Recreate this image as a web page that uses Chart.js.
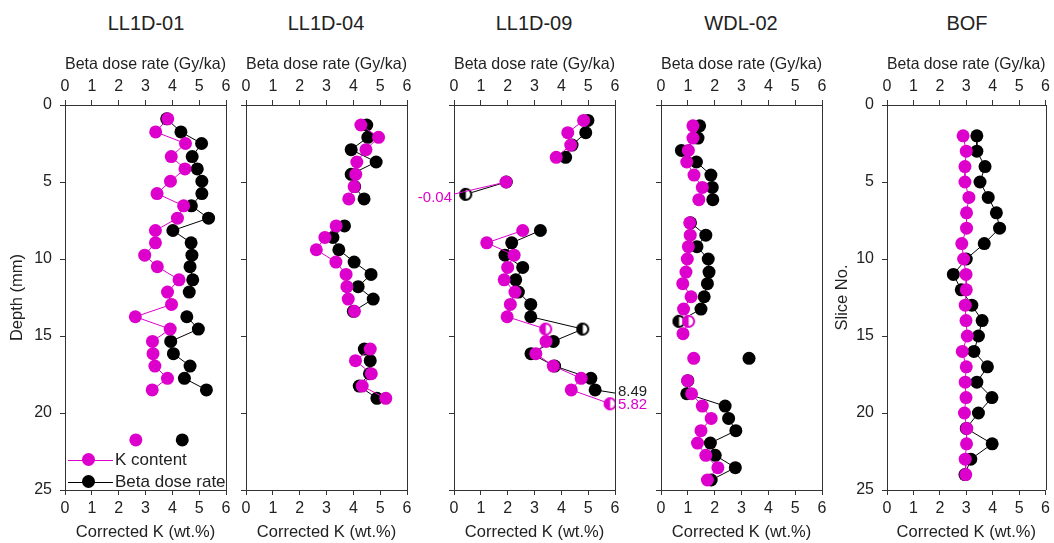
<!DOCTYPE html>
<html>
<head>
<meta charset="utf-8">
<script src="https://cdn.jsdelivr.net/npm/chart.js"></script>
<style>
body { margin: 0; background: #fff; width: 1054px; height: 543px; position: relative; overflow: hidden;
       font-family: "Liberation Sans", Arial, sans-serif; color: #222; }
.panel { position: absolute; top: 0; }
.title { position: absolute; top: 12px; width: 160px; text-align: center; font-size: 20px; }
.legend { position: absolute; left: 66px; top: 449px; font-size: 17px; }
.legend div { height: 22px; display: flex; align-items: center; }
.mark { position: relative; width: 49px; height: 22px; }
.mark i { position: absolute; left: 2px; right: 2px; top: 10.5px; height: 1px; }
.mark b { position: absolute; left: 16px; top: 4px; width: 13px; height: 13px; border-radius: 50%; }
</style>
</head>
<body>
<div class="title" style="left:66px">LL1D-01</div>
<div class="title" style="left:246px">LL1D-04</div>
<div class="title" style="left:454px">LL1D-09</div>
<div class="title" style="left:661px">WDL-02</div>
<div class="title" style="left:887px">BOF</div>

<canvas class="panel" id="p1" width="238" height="543" style="left:0px"></canvas>
<canvas class="panel" id="p2" width="193" height="543" style="left:226px"></canvas>
<canvas class="panel" id="p3" width="241" height="543" style="left:414px"></canvas>
<canvas class="panel" id="p4" width="192" height="543" style="left:641px"></canvas>
<canvas class="panel" id="p5" width="234" height="543" style="left:820px"></canvas>

<div class="legend">
  <div><span class="mark"><i style="background:#dd00cc"></i><b style="background:#dd00cc"></b></span>K content</div>
  <div><span class="mark"><i style="background:#000"></i><b style="background:#000"></b></span>Beta dose rate</div>
</div>

<script>
// LL1D-01 (depth in mm)
var depth01 = [0.9, 1.75, 2.5, 3.35, 4.15, 4.95, 5.75, 6.55, 7.35, 8.15, 8.95, 9.75, 10.5, 11.35, 12.15, 12.95, 13.75, 14.55, 15.35, 16.15, 16.95, 17.75, 18.5, 20, 21.75];
var k01 =    [3.83, 3.38, 4.49, 3.96, 4.47, 3.93, 3.43, 4.42, 4.19, 3.37, 3.37, 2.97, 3.44, 4.25, 3.82, 3.97, 2.62, 3.92, 3.26, 3.28, 3.35, 3.82, 3.25, null, 2.64];
var beta01 = [3.79, 4.32, 5.09, 4.74, 4.93, 5.1, 5.1, 4.71, 5.35, 4.02, 4.7, 4.73, 4.66, 4.76, 4.63, null, 4.54, 4.97, 3.94, 4.04, 4.66, 4.45, 5.27, null, 4.37];

// LL1D-04
var depth04 = [1.3, 2.1, 2.9, 3.7, 4.5, 5.3, 6.1, 7.0, 7.85, 8.6, 9.4, 10.2, 11.0, 11.8, 12.6, 13.4, 14.6, 15.85, 16.6, 17.45, 18.25, 19.05];
var k04 =    [4.28, 4.94, 4.47, 4.13, 4.09, 4.03, 3.83, null, 3.36, 2.94, 2.62, 3.35, 3.73, 3.76, 3.81, 4.04, null, 4.63, 4.08, 4.67, 4.33, 5.21];
var beta04 = [4.5, 4.54, 3.92, 4.85, 3.92, 4.05, 4.4, null, 3.67, 3.24, 3.46, 4.03, 4.66, 4.18, 4.74, 4.0, null, 4.41, 4.63, 4.6, 4.22, 4.88];

// LL1D-09
var depth09 = [1.0, 1.8, 2.6, 3.4, 4.2, 5.0, 5.8, 7.0, 8.15, 8.95, 9.75, 10.55, 11.35, 12.15, 12.95, 13.75, 14.55, 15.35, 16.15, 16.95, 17.75, 18.5, 19.4];
var k09 =    [4.83, 4.24, 4.35, 3.81, null, 1.94, -0.04, null, 2.56, 1.22, 2.24, 2.0, 1.87, 2.27, 2.1, 1.98, 3.42, 3.43, 3.05, 3.7, 4.74, 4.37, 5.82];
var beta09 = [4.99, 4.91, 4.4, 4.16, null, 1.95, 0.44, null, 3.22, 2.15, 1.9, 2.56, 2.3, 2.4, 2.86, 2.86, 4.8, 3.7, 2.87, 3.75, 5.1, 5.26, 8.49];

// WDL-02
var depthW = [1.35, 2.15, 2.95, 3.7, 4.55, 5.35, 6.15, 6.9, 7.65, 8.45, 9.2, 10.0, 10.85, 11.6, 12.45, 13.25, 14.05, 14.85, 15.7, 16.45, 17.2, 17.9, 18.75, 19.55, 20.35, 21.15, 21.95, 22.75, 23.55, 24.35];
var kW =    [1.19, 1.19, 1.02, 0.96, 1.23, 1.54, 1.41, null, 1.07, 1.09, 1.02, 0.98, 0.93, 0.81, 1.12, 0.84, 1.03, 0.82, null, 1.22, null, 0.99, 1.14, 1.54, 1.87, 1.49, 1.36, 1.67, 2.12, 1.73];
var betaW = [1.44, 1.38, 0.76, 1.32, 1.86, 1.91, 1.93, null, 1.1, 1.67, 1.34, 1.76, 1.79, 1.73, 1.61, 1.49, 0.67, null, null, 3.28, null, 1.0, 0.96, 2.39, 2.52, 2.79, 1.84, 2.02, 2.77, 1.87];

// BOF (slice number)
var sliceB = [2, 3, 4, 5, 6, 7, 8, 9, 10, 11, 12, 13, 14, 15, 16, 17, 18, 19, 20, 21, 22, 23, 24];
var kB =    [2.88, 3.0, 2.95, 2.95, 3.1, 3.01, 3.01, 2.83, 2.9, 2.99, 3.0, 2.96, 2.99, 3.04, 2.85, 3.0, 2.96, 2.99, 2.93, 3.02, 3.01, 2.96, 2.98];
var betaB = [3.4, 3.4, 3.71, 3.52, 3.83, 4.14, 4.26, 3.68, 3.0, 2.51, 2.81, 3.21, 3.6, 3.46, 3.29, 3.8, 3.4, 3.97, 3.46, 3.0, 3.98, 3.17, 2.95];

var PINK = '#dd00cc';
var AXIS = '#333';
Chart.defaults.font.family = '"Liberation Sans", Arial, sans-serif';
Chart.defaults.color = '#222';

function halfDot(color) {
  var c = document.createElement('canvas');
  c.width = 15; c.height = 15;
  var g = c.getContext('2d');
  g.fillStyle = '#fff';
  g.beginPath(); g.arc(7.5, 7.5, 6.5, 0, 2 * Math.PI); g.fill();
  g.fillStyle = color;
  g.beginPath(); g.arc(7.5, 7.5, 6.5, Math.PI / 2, Math.PI * 1.5); g.closePath(); g.fill();
  g.strokeStyle = color; g.lineWidth = 2;
  g.beginPath(); g.arc(7.5, 7.5, 5.5, 0, 2 * Math.PI); g.stroke();
  return c;
}
var halfPink = halfDot(PINK), halfBlack = halfDot('#000');

function points(ys, xs) {
  return ys.map(function (y, i) { return { x: xs[i], y: y }; });
}

// right border of each box + off-scale value notes
var framePlugin = {
  id: 'frame',
  afterDraw: function (chart, args, opts) {
    var a = chart.chartArea, ctx = chart.ctx;
    ctx.save();
    ctx.strokeStyle = AXIS;
    ctx.lineWidth = 1;
    ctx.beginPath();
    ctx.moveTo(Math.round(a.right) + 0.5, a.top);
    ctx.lineTo(Math.round(a.right) + 0.5, a.bottom);
    ctx.stroke();
    (opts.notes || []).forEach(function (n) {
      var y = chart.scales.y.getPixelForValue(n.depth);
      ctx.font = '15px "Liberation Sans", Arial, sans-serif';
      ctx.fillStyle = n.color;
      ctx.textBaseline = 'middle';
      if (n.side === 'left') { ctx.textAlign = 'right'; ctx.fillText(n.text, a.left - 2, y); }
      else { ctx.textAlign = 'left'; ctx.fillText(n.text, a.right + 3, y); }
    });
    ctx.restore();
  }
};

function xAxis(pos, title, titlePad, h) {
  return {
    type: 'linear', position: pos, min: 0, max: 6,
    ticks: { stepSize: 1, padding: 4, font: { size: 16 } },
    grid: { drawOnChartArea: false, drawTicks: true, tickLength: 5, tickColor: AXIS },
    border: { color: AXIS, width: 1 },
    title: { display: true, text: title, font: { size: 16.5 }, padding: titlePad },
    afterFit: function (s) { s.height = h; }
  };
}

function makePanel(id, ys, kVals, betaVals, o) {
  var halfK = o.halfK || [], halfB = o.halfB || [];
  function style(list, img) {
    return function (c) { return c.raw && list.indexOf(c.raw.y) >= 0 ? img : 'circle'; };
  }
  function radius(c) {
    var v = c.raw && c.raw.x;
    return (v === null || v < 0 || v > 6) ? 0 : 6.5;
  }
  new Chart(document.getElementById(id), {
    type: 'scatter',
    data: {
      datasets: [{
        label: 'K content',
        data: points(ys, kVals),
        xAxisID: 'xK',
        showLine: true,
        borderColor: PINK, backgroundColor: PINK, borderWidth: 1,
        pointRadius: radius, pointBorderWidth: 0,
        pointStyle: style(halfK, halfPink)
      }, {
        label: 'Beta dose rate',
        data: points(ys, betaVals),
        xAxisID: 'xB',
        showLine: true,
        clip: 0,
        borderColor: '#000', backgroundColor: '#000', borderWidth: 1,
        pointRadius: radius, pointBorderWidth: 0,
        pointStyle: style(halfB, halfBlack)
      }]
    },
    options: {
      responsive: false,
      animation: false,
      layout: { padding: { top: 50, right: o.right, bottom: 0, left: 0 } },
      plugins: {
        legend: { display: false },
        tooltip: { enabled: false },
        frame: { notes: o.notes || [] }
      },
      scales: {
        xB: xAxis('top', 'Beta dose rate (Gy/ka)', { top: 5, bottom: 0 }, 55),
        xK: xAxis('bottom', 'Corrected K (wt.%)', { top: 0, bottom: 1 }, 53),
        y: {
          type: 'linear', position: 'left', reverse: true, min: 0, max: 25,
          ticks: { stepSize: 5, padding: 8, display: !!o.yTitle, font: { size: 16 } },
          grid: { drawOnChartArea: false, drawTicks: true, tickLength: 5, tickColor: AXIS },
          border: { color: AXIS, width: 1 },
          title: { display: !!o.yTitle, text: o.yTitle || '', font: { size: 16.5 }, padding: { top: o.yPad || 0, bottom: 0 } },
          afterFit: function (s) { s.width = o.left; }
        }
      }
    },
    plugins: [framePlugin]
  });
}

makePanel('p1', depth01, k01, beta01, { left: 65, right: 12, yTitle: 'Depth (mm)', yPad: 8 });
makePanel('p2', depth04, k04, beta04, { left: 20, right: 12 });
makePanel('p3', depth09, k09, beta09, {
  left: 40, right: 40,
  halfK: [14.55, 19.4], halfB: [5.8, 14.55],
  notes: [
    { text: '-0.04', depth: 6.0, color: PINK, side: 'left' },
    { text: '8.49', depth: 18.65, color: '#222', side: 'right' },
    { text: '5.82', depth: 19.5, color: PINK, side: 'right' }
  ]
});
makePanel('p4', depthW, kW, betaW, { left: 20, right: 11, halfK: [14.05], halfB: [14.05] });
makePanel('p5', sliceB, kB, betaB, { left: 67, right: 7, yTitle: 'Slice No.', yPad: 13 });
</script>
</body>
</html>
